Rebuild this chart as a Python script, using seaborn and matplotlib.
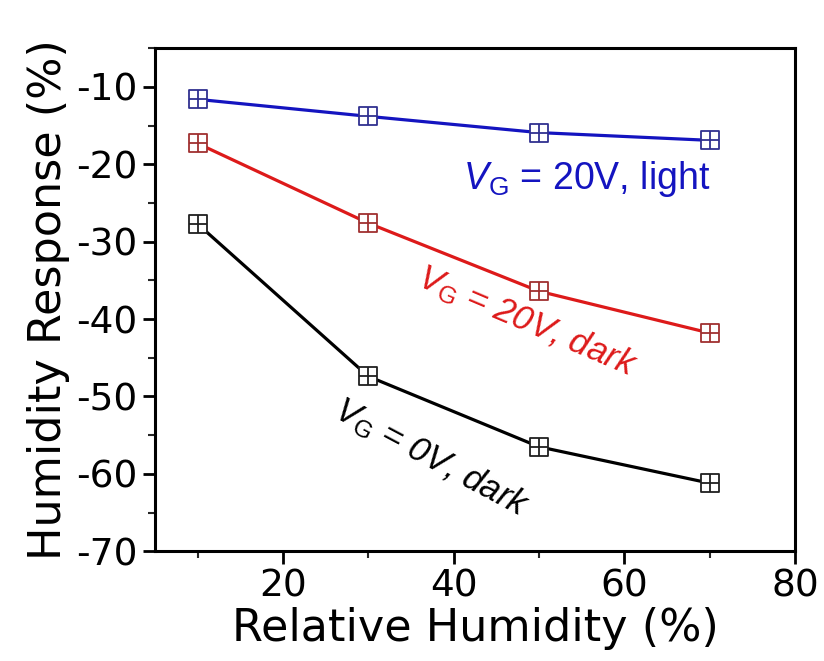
import numpy as np
import pandas as pd
import matplotlib
matplotlib.use("Agg")
import matplotlib.pyplot as plt
from matplotlib.path import Path
from matplotlib.ticker import MultipleLocator
import seaborn as sns

rh = [10, 30, 50, 70]
light_20v = [-11.6, -13.8, -15.9, -16.9]
dark_20v = [-17.3, -27.6, -36.4, -41.8]
dark_0v = [-27.7, -47.4, -56.5, -61.2]
series_names = ["VG=20V, light", "VG=20V, dark", "VG=0V, dark"]
line_colors = ["#1414c0", "#dd1a1a", "#000000"]
marker_colors = ["#303090", "#a03030", "#202020"]
xticks = [20, 40, 60, 80]
yticks = [-10, -20, -30, -40, -50, -60, -70]

df = pd.DataFrame({
    "rh": rh * 3,
    "resp": light_20v + dark_20v + dark_0v,
    "series": sum([[n] * 4 for n in series_names], []),
})

sns.set_theme(style="ticks")
plt.rcParams["font.family"] = ["DejaVu Sans"]
plt.rcParams["axes.unicode_minus"] = False
plt.rcParams["mathtext.fontset"] = "custom"
plt.rcParams["mathtext.rm"] = "Liberation Sans"
plt.rcParams["mathtext.it"] = "Liberation Sans:italic"

fig = plt.figure(figsize=(8.24, 6.61), dpi=100)
ax = fig.add_axes([0.188, 0.166, 0.777, 0.761])

verts = [(-1, -1), (1, -1), (1, 1), (-1, 1), (-1, -1),
         (0, -1), (0, 1), (-1, 0), (1, 0)]
codes = [Path.MOVETO, Path.LINETO, Path.LINETO, Path.LINETO, Path.CLOSEPOLY,
         Path.MOVETO, Path.LINETO, Path.MOVETO, Path.LINETO]
sqplus = Path(verts, codes)

for name, lc, mc in zip(series_names, line_colors, marker_colors):
    sub = df[df["series"] == name]
    sns.lineplot(data=sub, x="rh", y="resp", ax=ax, color=lc, linewidth=2.3,
                 marker=sqplus, markersize=13, markerfacecolor="white",
                 markeredgecolor=mc, markeredgewidth=1.3, legend=False)

ax.set_xlim(5, 80)
ax.set_ylim(-70, -5)
ax.set_xticks(xticks)
ax.set_yticks(yticks)
ax.xaxis.set_minor_locator(MultipleLocator(10))
ax.yaxis.set_minor_locator(MultipleLocator(5))
ax.tick_params(axis="both", which="major", direction="out", length=9, width=2,
               labelsize=27, color="black", labelcolor="black", top=False, right=False)
ax.tick_params(axis="both", which="minor", direction="out", length=5, width=1.5,
               top=False, right=False)
for s in ax.spines.values():
    s.set_visible(True)
    s.set_linewidth(2.2)
    s.set_color("black")

ax.set_xlabel("Relative Humidity (%)", fontsize=32, color="black", labelpad=2)
ax.set_ylabel("Humidity Response (%)", fontsize=32, color="black", labelpad=4)

ax.text(55.6, -21.9, r"$V_{\mathrm{G}}$ = 20V, light", color="#1414c0",
        fontsize=27, family="Liberation Sans", ha="center", va="center")
ax.text(48.6, -40.3, r"$V_{\mathrm{G}}$ = 20V, dark", color="#dd1a1a",
        fontsize=25, family="Liberation Sans", ha="center", va="center",
        rotation=-23, rotation_mode="anchor", style="italic")
ax.text(37.4, -57.9, r"$V_{\mathrm{G}}$ = 0V, dark", color="#000000",
        fontsize=25, family="Liberation Sans", ha="center", va="center",
        rotation=-28, rotation_mode="anchor", style="italic")

fig.savefig("out.png", dpi=100)
